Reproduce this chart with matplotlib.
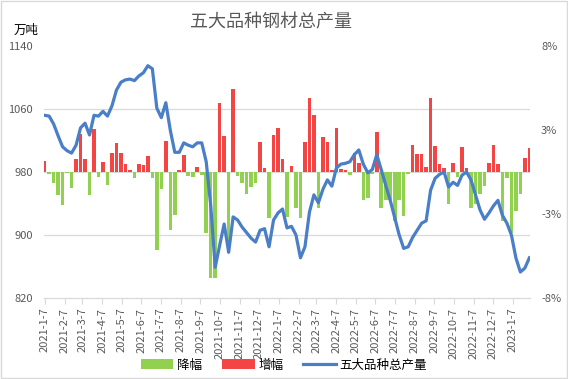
import numpy as np
import pandas as pd
import matplotlib
matplotlib.use("Agg")
import matplotlib.pyplot as plt
from matplotlib.ticker import FixedLocator, FuncFormatter

plt.rcParams['font.family'] = ['Noto Sans CJK SC', 'DejaVu Sans']

# weekly data, 2021-1-7 onward
dates = pd.date_range('2021-01-07', periods=109, freq='7D')

# total output of the five steel products (10k tonnes)
output = [1052, 1051, 1041, 1026, 1012, 1007, 1004, 1014, 1036, 1042,
          1027, 1052, 1051, 1057, 1051, 1064, 1084, 1094, 1097, 1098,
          1096, 1102, 1106, 1115, 1111, 1061, 1049, 1068, 1033, 1005,
          1005, 1017, 1014, 1012, 1017, 1017, 993, 938, 859, 887,
          914, 878, 923, 919, 910, 903, 896, 891, 906, 908,
          885, 919, 928, 933, 909, 911, 900, 871, 885, 929,
          951, 941, 958, 970, 962, 985, 990, 991, 993, 1002,
          1008, 990, 979, 983, 1002, 983, 963, 944, 922, 900,
          883, 885, 897, 906, 915, 918, 957, 972, 977, 980,
          961, 967, 963, 976, 980, 970, 951, 932, 920, 928,
          937, 944, 925, 915, 900, 871, 853, 858, 871]

# week-on-week change (%)
change = [0.70, -0.13, -0.70, -1.46, -2.10, -0.05, -1.02, 0.83, 2.41, 0.83,
          -1.46, 2.73, -0.30, 0.63, -0.83, 1.20, 1.84, 1.20, 0.50, 0.13,
          -0.40, 0.50, 0.44, 1.00, -0.40, -4.95, -1.08, 1.97, -3.68, -2.73,
          0.13, 1.08, -0.25, -0.30, 0.32, -0.19, -3.90, -6.73, -6.73, 4.38,
          2.29, -5.14, 5.27, -0.25, -0.70, -1.40, -0.95, -0.70, 1.90, 0.25,
          -2.92, 2.35, 2.80, 0.83, -2.86, 0.38, -2.30, -2.90, 1.90, 4.70,
          3.62, -2.30, 2.22, 1.90, 0.10, 2.80, 0.20, 0.15, -0.20, 1.20,
          0.57, -1.78, -1.65, -0.10, 2.54, -2.30, -1.80, -1.80, -3.10, -1.80,
          -2.80, -0.15, 1.70, 1.14, 1.14, 0.32, 4.70, 1.65, 0.50, 0.25,
          -2.00, 0.57, -0.30, 1.60, 0.25, -2.30, -2.00, -1.40, -0.90, 0.60,
          1.70, 0.50, -3.10, -0.40, -3.90, -2.50, -1.40, 0.89, 1.50]

change = np.array(change)
fall = np.where(change < 0, change, 0)
rise = np.where(change > 0, change, 0)

month_ticks = pd.date_range('2021-01-07', '2023-01-07', freq=pd.DateOffset(months=1))

fig = plt.figure(figsize=(5.68, 3.79), dpi=100)
ax = fig.add_axes([44/568, 1-298/379, (530-44)/568, (298-46)/379])
ax2 = ax.twinx()

grey = '#595959'
gridc = '#D9D9D9'

# bars on the % axis (drawn below the line)
b1 = ax.bar(dates, fall, width=5.6, color='#92D050', label='降幅', zorder=2)
b2 = ax.bar(dates, rise, width=5.6, color='#F44545', label='增幅', zorder=2)
ax.set_ylim(-8, 8)
ax.yaxis.tick_right()
ax.yaxis.set_major_locator(FixedLocator(np.linspace(-8, 8, 4)))
ax.yaxis.set_major_formatter(FuncFormatter(lambda v, p: f'{v:.0f}%'))
ax.yaxis.set_minor_locator(FixedLocator([-4, 0, 4, 8]))
ax.grid(which='minor', axis='y', color=gridc, linewidth=0.9, zorder=0)
ax.tick_params(axis='y', which='both', length=0, labelsize=8, labelcolor=grey, pad=8)

# line on the tonnage axis
l1, = ax2.plot(dates, output, color='#4A7FC8', linewidth=2.3, label='五大品种总产量')
ax2.set_ylim(820, 1140)
ax2.set_yticks([820, 900, 980, 1060, 1140])
ax2.yaxis.tick_left()
ax2.tick_params(axis='y', length=0, labelsize=8, labelcolor=grey, pad=8)

ax.set_xlim(dates[0] - pd.Timedelta(days=1), dates[-1] + pd.Timedelta(days=1))
ax.set_xticks(month_ticks)
ax.set_xticklabels([f'{d.year}-{d.month}-{d.day}' for d in month_ticks],
                   rotation=90, fontsize=8, color=grey)
ax.tick_params(axis='x', length=4, color=gridc, pad=3)

for a in (ax, ax2):
    for s in ('top', 'left', 'right'):
        a.spines[s].set_visible(False)
    a.spines['bottom'].set_color(gridc)

fig.text(271/568, 1-22/379, '五大品种钢材总产量', ha='center', va='center',
         fontsize=13, color=grey)
fig.text(26/568, 1-30/379, '万吨', ha='center', va='center', fontsize=9, color='black')

fig.legend(handles=[b1, b2, l1], loc='center', bbox_to_anchor=(284/568, 1-365/379),
           ncol=3, frameon=False, fontsize=9, handlelength=2.6, handleheight=0.9,
           columnspacing=1.6, handletextpad=0.3)

fig.patches.append(plt.Rectangle((0.002, 0.002), 0.996, 0.996, transform=fig.transFigure,
                                 fill=False, edgecolor=gridc, linewidth=1))

fig.savefig('out.png', dpi=100)
